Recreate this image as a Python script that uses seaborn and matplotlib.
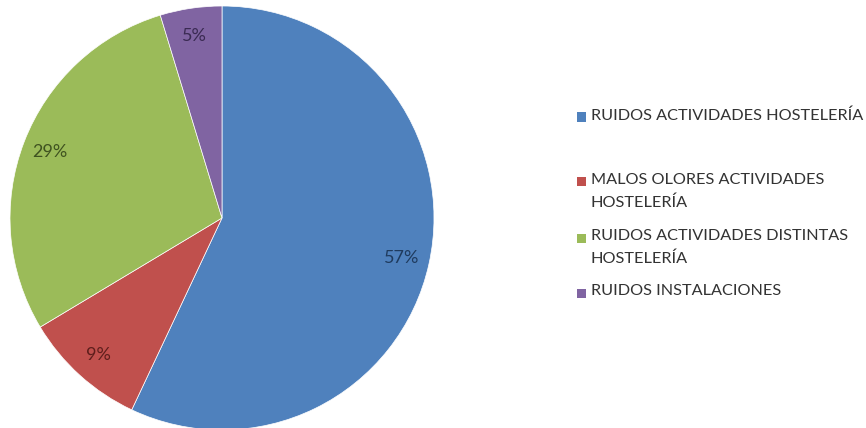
import matplotlib
matplotlib.use("Agg")
import matplotlib.pyplot as plt
from matplotlib.patches import Rectangle
import seaborn as sns

# data
categorias = ["RUIDOS ACTIVIDADES HOSTELERÍA",
              "MALOS OLORES ACTIVIDADES\nHOSTELERÍA",
              "RUIDOS ACTIVIDADES DISTINTAS\nHOSTELERÍA",
              "RUIDOS INSTALACIONES"]
valores = [57.0, 9.4, 28.9, 4.7]
colores = ["#4F81BD", "#C0504D", "#9BBB59", "#8064A2"]
colores_txt = ["#1F3B5E", "#5E1E1C", "#3F5220", "#3A2A52"]

sns.set_theme(style="white")
plt.rcParams['font.family'] = ['Lato', 'DejaVu Sans']

fig = plt.figure(figsize=(8.66, 4.28), dpi=100)
W, H = 866, 428

# pie axes: centre (222, 218) px, radius 212 px
r = 212
ax = fig.add_axes([(222 - r) / W, (H - 218 - r) / H, 2 * r / W, 2 * r / H])
wedges, textos, pcts = ax.pie(valores, colors=colores, startangle=90, counterclock=False,
                              autopct='%.0f%%', pctdistance=0.87, radius=1,
                              wedgeprops=dict(edgecolor='white', linewidth=0.5))
for t, c in zip(pcts, colores_txt):
    t.set_color(c)
    t.set_fontsize(13)
ax.set_xlim(-1, 1)
ax.set_ylim(-1, 1)
ax.set_aspect('equal')
ax.axis('off')

# legend drawn by hand to follow the uneven spacing of the original
y_pos = [117, 182, 238, 293]
for lab, c, y in zip(categorias, colores, y_pos):
    fig.patches.append(Rectangle(((577) / W, (H - y - 4.5) / H), 9 / W, 9 / H,
                                 transform=fig.transFigure, facecolor=c, edgecolor='none'))
    fig.text(591 / W, (H - y + 9) / H, lab, fontsize=11.7, color='#333333',
             va='top', ha='left', linespacing=1.75)

fig.savefig("out.png", dpi=100, facecolor='white')
